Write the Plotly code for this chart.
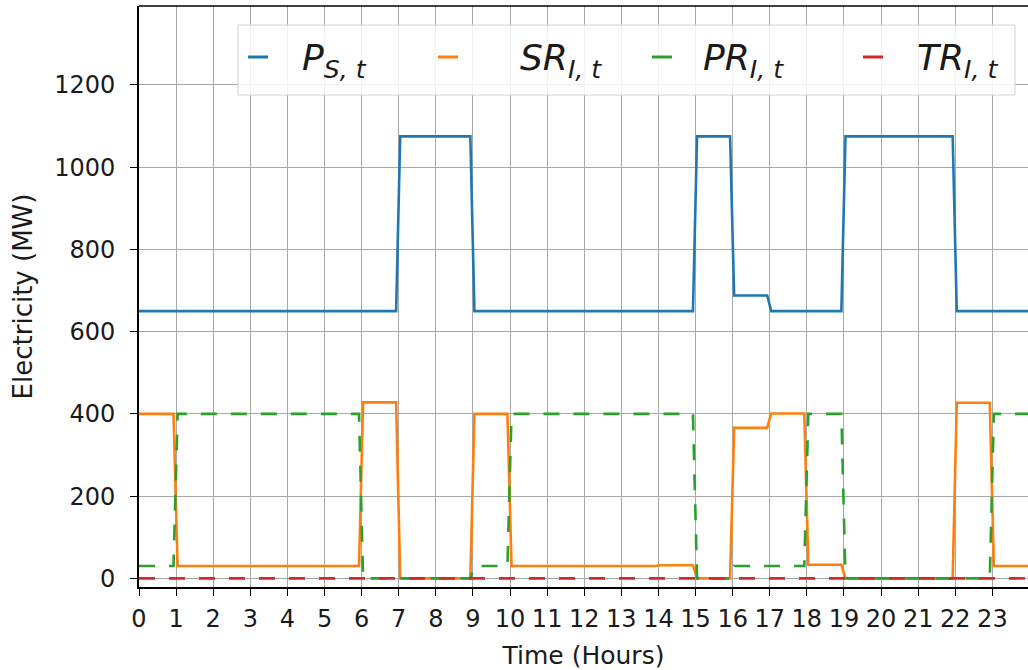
import plotly.graph_objects as go

# Hourly schedule (MW) for each hour of the day, 0..23
hours = list(range(24))
p_s = [650, 650, 650, 650, 650, 650, 650, 1075, 1075, 650, 650, 650,
       650, 650, 650, 1075, 688, 650, 650, 1075, 1075, 1075, 650, 650]
sr_i = [400, 30, 30, 30, 30, 30, 428, 0, 0, 400, 30, 30,
        30, 30, 32, 0, 366, 401, 33, 0, 0, 0, 427, 30]
pr_i = [30, 400, 400, 400, 400, 400, 0, 0, 0, 30, 400, 400,
        400, 400, 400, 0, 30, 30, 400, 0, 0, 0, 0, 400]
tr_i = [0] * 24

series_names = ["P<sub>S, t</sub>", "SR<sub>I, t</sub>", "PR<sub>I, t</sub>", "TR<sub>I, t</sub>"]
legend_labels = ["<i>P</i><sub><i>S, t</i></sub>", "<i>SR</i><sub><i>I, t</i></sub>",
                 "<i>PR</i><sub><i>I, t</i></sub>", "<i>TR</i><sub><i>I, t</i></sub>"]
colors = ["#1f77b4", "#ff7f0e", "#2ca02c", "#d62728"]
dashes = ["solid", "solid", "16px,14px", "16px,14px"]

x_ticks = list(range(24))
y_ticks = [0, 200, 400, 600, 800, 1000, 1200]

W, H = 1028, 670
L, R, T, B = 139, 0, 6, 83
X_RANGE = [0, 23.96]
Y_RANGE = [-21, 1392]

# short ramps at each hour boundary (values are held within each hour)
RAMP_BEFORE, RAMP_AFTER = 0.07, 0.04


def hold_steps(values):
    xs, ys = [], []
    for h, v in zip(hours, values):
        start = h + RAMP_AFTER if h > 0 else 0
        end = h + 1 - RAMP_BEFORE if h < hours[-1] else 24
        xs += [start, end]
        ys += [v, v]
    return xs, ys


fig = go.Figure()
for vals, name, col, dsh in zip([p_s, sr_i, pr_i, tr_i], series_names, colors, dashes):
    xs, ys = hold_steps(vals)
    fig.add_trace(go.Scatter(x=xs, y=ys, mode="lines", name=name,
                             line=dict(color=col, width=2.6, dash=dsh),
                             showlegend=False))

font_main = "DejaVu Sans, Arial, sans-serif"

fig.update_layout(
    width=W, height=H,
    margin=dict(l=L, r=R, t=T, b=B, pad=0),
    paper_bgcolor="white", plot_bgcolor="white",
    font=dict(family=font_main, color="#1a1a1a", size=24),
    xaxis=dict(range=X_RANGE, tickmode="array", tickvals=x_ticks,
               ticktext=[str(t) for t in x_ticks],
               showgrid=True, gridcolor="#a8a8a8", gridwidth=1,
               showline=True, linecolor="black", linewidth=1.6,
               ticks="outside", ticklen=7, tickwidth=1.4, tickcolor="black",
               tickfont=dict(size=24), ticklabelstandoff=2, zeroline=False,
               title=dict(text="Time (Hours)", font=dict(size=25), standoff=16)),
    yaxis=dict(range=Y_RANGE, tickmode="array", tickvals=y_ticks,
               showgrid=True, gridcolor="#a8a8a8", gridwidth=1,
               showline=True, linecolor="black", linewidth=1.6,
               ticks="outside", ticklen=7, tickwidth=1.4, tickcolor="black",
               tickfont=dict(size=24), ticklabelstandoff=10, zeroline=False,
               title=dict(text="Electricity (MW)", font=dict(size=26), standoff=14)),
)


def px_x(p):
    return (p - L) / (W - L - R)


def px_y(p):
    return (H - B - p) / (H - T - B)


# top spine
fig.add_shape(type="line", xref="paper", yref="paper", x0=0, x1=1, y0=1, y1=1,
              line=dict(color="black", width=1.6))

# legend frame
fig.add_shape(type="rect", xref="paper", yref="paper",
              x0=px_x(238), x1=px_x(1015), y0=px_y(95), y1=px_y(25),
              fillcolor="rgba(255,255,255,0.85)", line=dict(color="#d0d0d0", width=1))

handle_x = [248, 438, 652, 863]
label_x = [300, 518, 701, 915]
for hx, lx, lab, col in zip(handle_x, label_x, legend_labels, colors):
    fig.add_shape(type="line", xref="paper", yref="paper",
                  x0=px_x(hx), x1=px_x(hx + 20), y0=px_y(57), y1=px_y(57),
                  line=dict(color=col, width=3))
    fig.add_annotation(xref="paper", yref="paper", x=px_x(lx), y=px_y(60),
                       xanchor="left", yanchor="middle", showarrow=False,
                       text=lab, font=dict(family=font_main, size=36, color="#1a1a1a"))

fig.write_html("out.html")
